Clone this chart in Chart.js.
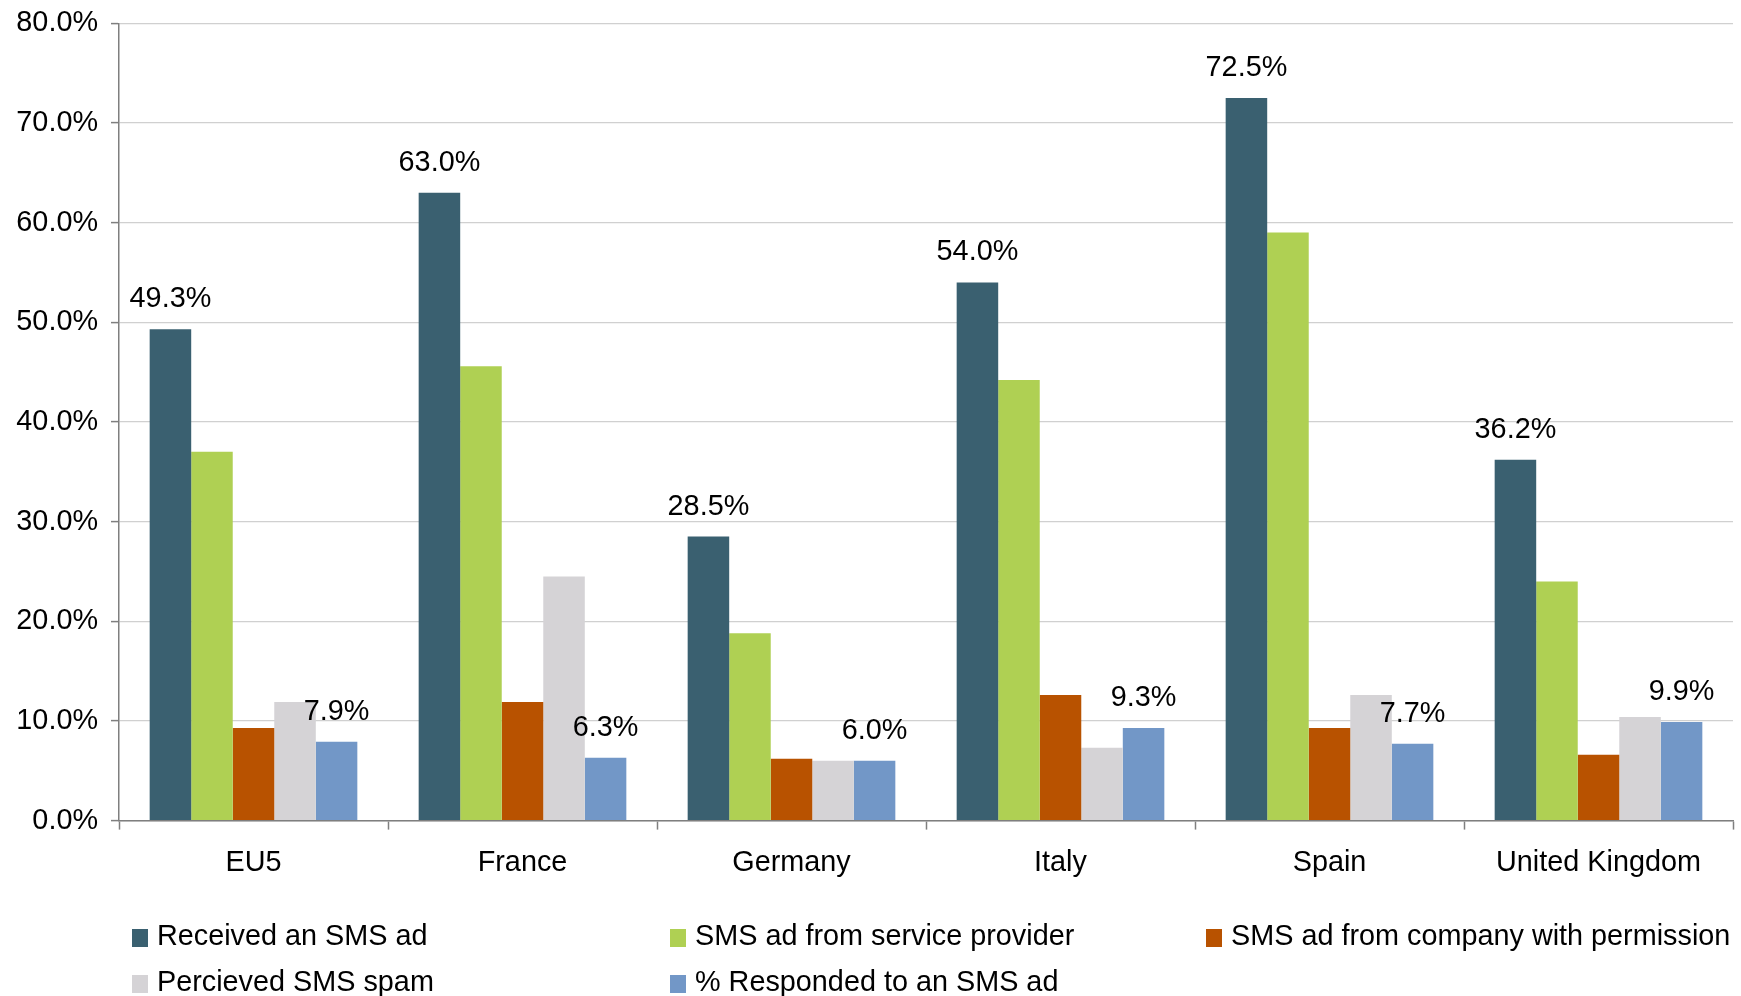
<!DOCTYPE html>
<html>
<head>
<meta charset="utf-8">
<script src="https://cdn.jsdelivr.net/npm/chart.js@4.4.0/dist/chart.umd.min.js"></script>
<style>
    html, body { margin: 0; padding: 0; background: #fff; }
    #wrap { width: 1741px; height: 996px; }
</style>
</head>
<body>
<div id="wrap"><canvas id="sms-chart" width="1741" height="996"></canvas></div>
<script>
// Chart data
const countries = ['EU5', 'France', 'Germany', 'Italy', 'Spain', 'United Kingdom'];
const receivedAd = [49.3, 63.0, 28.5, 54.0, 72.5, 36.2];
const serviceProvider = [37.0, 45.6, 18.8, 44.2, 59.0, 24.0];
const companyPermission = [9.3, 11.9, 6.2, 12.6, 9.3, 6.6];
const perceivedSpam = [11.9, 24.5, 6.0, 7.3, 12.6, 10.4];
const respondedAd = [7.9, 6.3, 6.0, 9.3, 7.7, 9.9];

const seriesNames = [
    'Received an SMS ad',
    'SMS ad from service provider',
    'SMS ad from company with permission',
    'Percieved SMS spam',
    '% Responded to an SMS ad'
];
const seriesColors = ['#3A6070', '#AFD053', '#B85200', '#D5D3D6', '#7297C7'];
const yTicks = [0, 10, 20, 30, 40, 50, 60, 70, 80];
const labelledSeries = [0, 4];

const FONT = '"Liberation Sans", Arial, sans-serif';
const FONT_SIZE = 28.8;
const axisGrey = '#7f7f7f';

// Value labels above first and last series
const valueLabels = {
    id: 'valueLabels',
    afterDatasetsDraw(chart) {
        const ctx = chart.ctx;
        ctx.save();
        ctx.font = FONT_SIZE + 'px ' + FONT;
        ctx.fillStyle = '#000';
        ctx.textAlign = 'center';
        ctx.textBaseline = 'alphabetic';
        labelledSeries.forEach(i => {
            const meta = chart.getDatasetMeta(i);
            meta.data.forEach((bar, j) => {
                const v = chart.data.datasets[i].data[j];
                ctx.fillText(v.toFixed(1) + '%', bar.x, bar.y - 22);
            });
        });
        ctx.restore();
    }
};

// Legend laid out in fixed columns like the original
const gridLegend = {
    id: 'gridLegend',
    afterDraw(chart) {
        const ctx = chart.ctx;
        const colX = [132, 670, 1206];
        const rowBase = [945, 991];
        ctx.save();
        ctx.font = FONT_SIZE + 'px ' + FONT;
        ctx.textAlign = 'left';
        ctx.textBaseline = 'alphabetic';
        chart.data.datasets.forEach((ds, i) => {
            const x = colX[i % 3];
            const base = rowBase[Math.floor(i / 3)];
            ctx.fillStyle = ds.backgroundColor;
            ctx.fillRect(x, base - 16, 16, 18);
            ctx.fillStyle = '#000';
            ctx.fillText(ds.label, x + 25, base);
        });
        ctx.restore();
    }
};

const allSeries = [receivedAd, serviceProvider, companyPermission, perceivedSpam, respondedAd];

new Chart(document.getElementById('sms-chart').getContext('2d'), {
    type: 'bar',
    data: {
        labels: countries,
        datasets: allSeries.map((values, i) => ({
            label: seriesNames[i],
            data: values,
            backgroundColor: seriesColors[i],
            borderWidth: 0,
            categoryPercentage: 0.772,
            barPercentage: 1.0
        }))
    },
    options: {
        responsive: false,
        animation: false,
        devicePixelRatio: 1,
        layout: { padding: { left: 0, right: 8, top: 23.3, bottom: 0 } },
        plugins: {
            legend: { display: false },
            tooltip: { enabled: false }
        },
        scales: {
            x: {
                grid: { offset: true, drawOnChartArea: false, tickLength: 9, tickColor: axisGrey, tickWidth: 1.5 },
                border: { color: axisGrey, width: 1.5 },
                ticks: { color: '#000', font: { family: FONT, size: FONT_SIZE }, padding: 16.5, maxRotation: 0 },
                afterFit(scale) { scale.height = 175.4; }
            },
            y: {
                min: 0,
                max: 80,
                afterBuildTicks(scale) { scale.ticks = yTicks.map(v => ({ value: v })); },
                grid: { color: '#d0d0d0', lineWidth: 1.2, tickLength: 8, tickColor: axisGrey, tickWidth: 1.5 },
                border: { color: axisGrey, width: 1.5 },
                ticks: {
                    color: '#000',
                    font: { family: FONT, size: FONT_SIZE },
                    padding: 13,
                    callback: v => v.toFixed(1) + '%'
                },
                afterFit(scale) {
                    scale.width = 119;
                    scale.paddingTop = 0;
                    scale.paddingBottom = 0;
                }
            }
        }
    },
    plugins: [valueLabels, gridLegend]
});
</script>
</body>
</html>
